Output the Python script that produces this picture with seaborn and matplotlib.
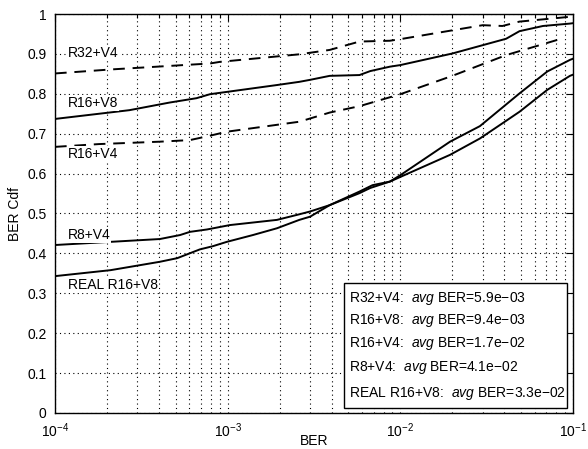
import matplotlib
matplotlib.use("Agg")
import matplotlib.pyplot as plt
import matplotlib.ticker as mticker
from matplotlib.patches import Rectangle
import seaborn as sns
import pandas as pd

# ---- data ----
r32v4_ber = [1.0e-4, 2.1e-4, 7.9e-4, 9.0e-4, 2.6e-3, 3.9e-3, 5.8e-3, 8.7e-3, 1.0e-2, 3.0e-2, 3.9e-2, 4.9e-2, 9.6e-2, 1.0e-1]
r32v4_cdf = [0.851, 0.861, 0.876, 0.880, 0.899, 0.910, 0.931, 0.933, 0.937, 0.972, 0.970, 0.981, 0.993, 0.994]

r16v8_ber = [1.0e-4, 2.7e-4, 4.6e-4, 6.6e-4, 7.9e-4, 1.93e-3, 2.6e-3, 3.0e-3, 3.9e-3, 5.8e-3, 6.7e-3, 8.7e-3, 1.0e-2, 2.0e-2, 4.1e-2, 4.9e-2, 6.7e-2, 9.6e-2, 1.0e-1]
r16v8_cdf = [0.737, 0.759, 0.778, 0.789, 0.799, 0.822, 0.830, 0.835, 0.845, 0.847, 0.857, 0.868, 0.872, 0.901, 0.938, 0.957, 0.970, 0.976, 0.977]

r16v4_ber = [1.0e-4, 1.8e-4, 4.05e-4, 6.05e-4, 7.9e-4, 9.9e-4, 2.6e-3, 3.9e-3, 5.8e-3, 1.0e-2, 2.0e-2, 4.1e-2, 8.1e-2]
r16v4_cdf = [0.667, 0.674, 0.680, 0.684, 0.695, 0.705, 0.730, 0.753, 0.769, 0.799, 0.845, 0.897, 0.935]

r8v4_ber = [1.0e-4, 4.05e-4, 5.3e-4, 6.05e-4, 7.6e-4, 1.03e-3, 1.93e-3, 2.6e-3, 3.0e-3, 3.9e-3, 5.8e-3, 6.9e-3, 8.7e-3, 1.94e-2, 2.89e-2, 3.9e-2, 4.9e-2, 7.1e-2, 9.6e-2, 1.0e-1]
r8v4_cdf = [0.421, 0.436, 0.446, 0.454, 0.460, 0.471, 0.484, 0.498, 0.505, 0.521, 0.555, 0.571, 0.580, 0.647, 0.688, 0.726, 0.755, 0.810, 0.845, 0.848]

real_ber = [1.0e-4, 2.1e-4, 4.05e-4, 5.1e-4, 6.9e-4, 8.2e-4, 9.9e-4, 1.4e-3, 1.93e-3, 2.6e-3, 3.0e-3, 3.9e-3, 5.8e-3, 6.7e-3, 8.7e-3, 1.0e-2, 1.94e-2, 2.89e-2, 4.9e-2, 7.1e-2, 9.6e-2, 1.0e-1]
real_cdf = [0.343, 0.358, 0.379, 0.388, 0.410, 0.418, 0.429, 0.446, 0.463, 0.484, 0.492, 0.521, 0.551, 0.564, 0.580, 0.596, 0.680, 0.719, 0.801, 0.856, 0.885, 0.888]

series_names = ["R32+V4", "R16+V8", "R16+V4", "R8+V4", "REAL R16+V8"]
series_ber = [r32v4_ber, r16v8_ber, r16v4_ber, r8v4_ber, real_ber]
series_cdf = [r32v4_cdf, r16v8_cdf, r16v4_cdf, r8v4_cdf, real_cdf]
series_dashed = [True, False, True, False, False]

label_y = [0.902, 0.777, 0.649, 0.446, 0.321]
avg_ber = ["5.9e\u221203", "9.4e\u221203", "1.7e\u221202", "4.1e\u221202", "3.3e\u221202"]

y_ticks = [0, 0.1, 0.2, 0.3, 0.4, 0.5, 0.6, 0.7, 0.8, 0.9, 1.0]
y_tick_labels = ["0", "0.1", "0.2", "0.3", "0.4", "0.5", "0.6", "0.7", "0.8", "0.9", "1"]

# ---- style ----
sns.set_theme(style="white")
plt.rcParams["font.family"] = ["Liberation Sans", "DejaVu Sans"]
plt.rcParams["mathtext.fontset"] = "custom"
plt.rcParams["mathtext.rm"] = "Liberation Sans"
plt.rcParams["mathtext.it"] = "Liberation Sans:italic"
plt.rcParams["mathtext.default"] = "regular"

fig = plt.figure(figsize=(5.88, 4.49), dpi=100)
ax = fig.add_axes([0.0935, 0.0802, 0.881, 0.8886])

rows = []
for name, b, c in zip(series_names, series_ber, series_cdf):
    for xv, yv in zip(b, c):
        rows.append({"series": name, "BER": xv, "cdf": yv})
df = pd.DataFrame(rows)

for name, dashed in zip(series_names, series_dashed):
    sub = df[df["series"] == name]
    sns.lineplot(data=sub, x="BER", y="cdf", ax=ax, color="black",
                 linewidth=1.4, estimator=None, sort=False,
                 linestyle=(0, (6, 4)) if dashed else "-")

ax.set_xscale("log")
ax.set_xlim(1e-4, 1e-1)
ax.set_ylim(0, 1)
ax.set_yticks(y_ticks)
ax.set_yticklabels(y_tick_labels)
ax.xaxis.set_major_locator(mticker.LogLocator(base=10, numticks=10))
ax.xaxis.set_minor_locator(mticker.LogLocator(base=10, subs=range(2, 10), numticks=20))

ax.grid(True, which="major", axis="both", color="black", linestyle=(0, (1, 3)), linewidth=0.8)
ax.grid(True, which="minor", axis="x", color="black", linestyle=(0, (1, 3)), linewidth=0.8)

ax.tick_params(which="both", direction="in", top=True, right=True, colors="black",
               labelsize=10, width=0.8)
ax.tick_params(which="major", length=5)
ax.tick_params(axis="y", which="major", pad=6)
ax.tick_params(axis="x", which="major", pad=6)
ax.tick_params(which="minor", length=3)
for s in ax.spines.values():
    s.set_color("black")
    s.set_linewidth(1.0)
    s.set_visible(True)

ax.set_xlabel("BER", fontsize=10, color="black", labelpad=-4)
ax.set_ylabel("BER Cdf", fontsize=10, color="black", labelpad=4)

for name, yv in zip(series_names, label_y):
    ax.text(1.19e-4, yv, name, fontsize=10, va="center", ha="left", color="black",
            bbox=dict(facecolor="white", edgecolor="none", pad=0.5))

# legend-like box
ax.add_patch(Rectangle((0.558, 0.0125), 0.43, 0.3135, transform=ax.transAxes,
                       facecolor="white", edgecolor="black", linewidth=1.0, zorder=5))
legend_y = [0.286, 0.231, 0.173, 0.113, 0.050]
for name, avg, yy in zip(series_names, avg_ber, legend_y):
    ax.text(0.568, yy, name + ":  $\\mathit{avg}$ BER=" + avg, transform=ax.transAxes,
            fontsize=10, va="center", ha="left", color="black", zorder=6)

fig.savefig("out.png", dpi=100, facecolor="white")
